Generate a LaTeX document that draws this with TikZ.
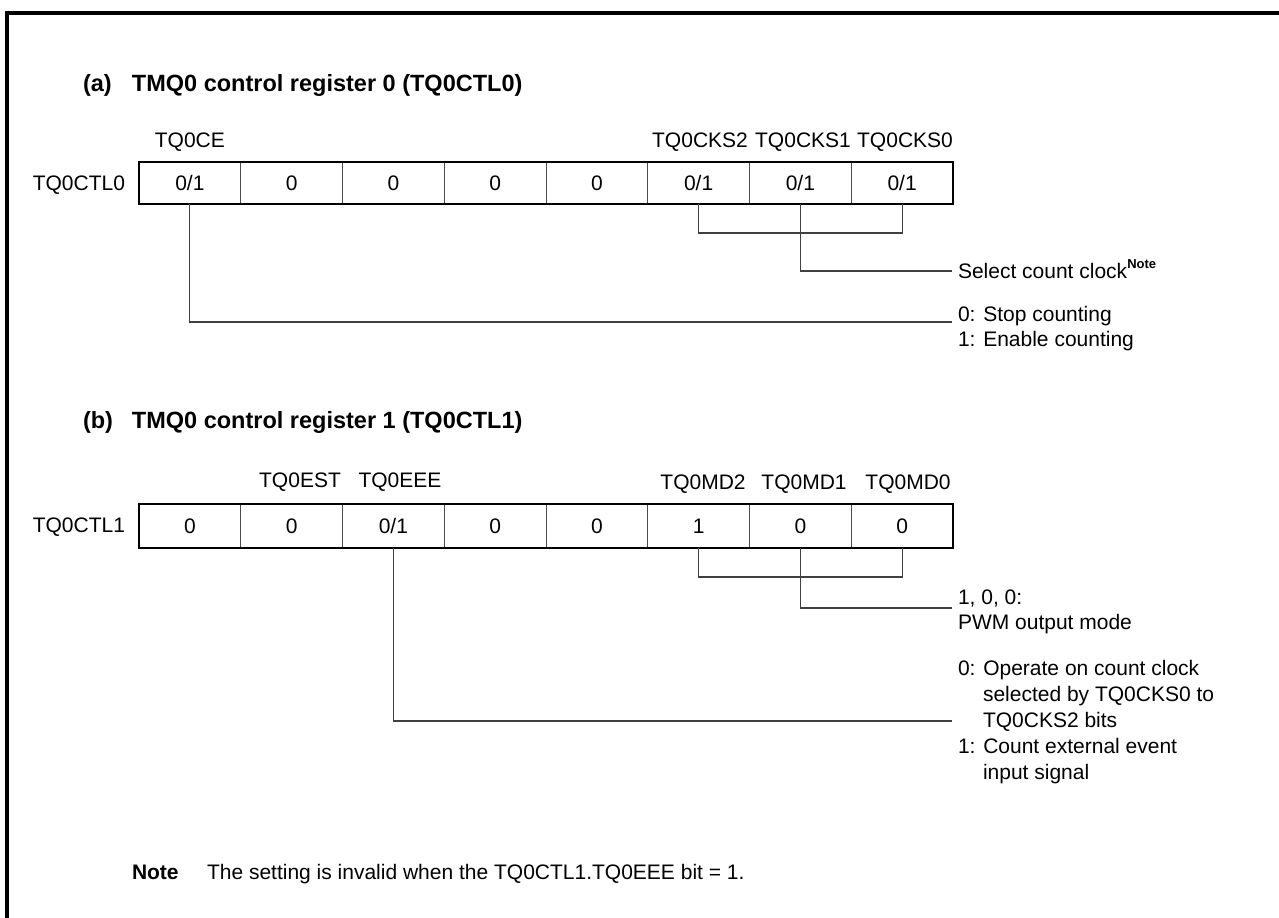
\documentclass[tikz,border=0pt]{standalone}
\usepackage{fontspec}
\setmainfont{Liberation Sans}
\begin{document}
\begin{tikzpicture}[x=0.5pt,y=-0.5pt,
  txt/.style={font=\fontsize{10.5pt}{12pt}\selectfont, inner sep=0pt, outer sep=0pt},
  lbl/.style={txt, anchor=base},
  desc/.style={txt, anchor=base west},
  ttl/.style={font=\fontsize{11.75pt}{14pt}\selectfont\bfseries, inner sep=0pt, outer sep=0pt, anchor=base west},
  cella/.style={draw=black!70, line width=0.5pt, minimum width=50.875pt, minimum height=21pt, inner sep=0pt, outer sep=0pt, font=\fontsize{10.5pt}{12pt}\selectfont},
  cellb/.style={cella, minimum height=22pt},
  regborder/.style={draw=black, line width=1pt},
  conn/.style={draw=black!75, line width=0.55pt},
  frame/.style={draw=black, line width=1.7pt}]
\useasboundingbox (0,0) rectangle (1279,917);
% outer frame (top and left edges)
\draw[frame] (7,925) -- (7,13) -- (1290,13);

% ---------- (a) ----------
\node[ttl] (ta) at (83,91.4) {\makebox[24.5pt][l]{(a)}TMQ0 control register 0 (TQ0CTL0)};
\node[txt, anchor=base east] (rna) at (125,190.5) {TQ0CTL0};
\node[cella] (a0) at (189.875,183) {0/1};
\node[cella] (a1) at (291.625,183) {0};
\node[cella] (a2) at (393.375,183) {0};
\node[cella] (a3) at (495.125,183) {0};
\node[cella] (a4) at (596.875,183) {0};
\node[cella] (a5) at (698.625,183) {0/1};
\node[cella] (a6) at (800.375,183) {0/1};
\node[cella] (a7) at (902.125,183) {0/1};
\draw[regborder] (a0.north west) rectangle (a7.south east);
\node[lbl] (la0) at (189.875,147.5) {TQ0CE};
\node[lbl] (la5) at (700,147.5) {TQ0CKS2};
\node[lbl] (la6) at (803,147.5) {TQ0CKS1};
\node[lbl] (la7) at (905,147.5) {TQ0CKS0};

\coordinate (ka) at (800.375,233);
\coordinate (selend) at (952,271);
\coordinate (stopend) at (952,322);
\draw[conn] (a5.south) |- (ka) -| (a7.south);
\draw[conn] (a6.south) |- (selend);
\draw[conn] (a0.south) |- (stopend);
\node[desc] (sel) at (958,278.5) {Select count clock\raisebox{5.25pt}{\fontsize{6.5pt}{7pt}\selectfont\bfseries Note}};
\node[desc] (stop0) at (958,321.5) {0: Stop counting};
\node[desc] (stop1) at (958,346.5) {1: Enable counting};

% ---------- (b) ----------
\node[ttl] (tb) at (83,428.4) {\makebox[24.5pt][l]{(b)}TMQ0 control register 1 (TQ0CTL1)};
\node[txt, anchor=base east] (rnb) at (125,532.5) {TQ0CTL1};
\node[cellb] (b0) at (189.875,526) {0};
\node[cellb] (b1) at (291.625,526) {0};
\node[cellb] (b2) at (393.375,526) {0/1};
\node[cellb] (b3) at (495.125,526) {0};
\node[cellb] (b4) at (596.875,526) {0};
\node[cellb] (b5) at (698.625,526) {1};
\node[cellb] (b6) at (800.375,526) {0};
\node[cellb] (b7) at (902.125,526) {0};
\draw[regborder] (b0.north west) rectangle (b7.south east);
\node[lbl] (lb1) at (300,487.5) {TQ0EST};
\node[lbl] (lb2) at (400,487.5) {TQ0EEE};
\node[lbl] (lb5) at (703,489.5) {TQ0MD2};
\node[lbl] (lb6) at (804,489.5) {TQ0MD1};
\node[lbl] (lb7) at (908,489.5) {TQ0MD0};

\coordinate (kb) at (800.375,577);
\coordinate (pwmend) at (952,608);
\coordinate (eeeend) at (952,721);
\draw[conn] (b5.south) |- (kb) -| (b7.south);
\draw[conn] (b6.south) |- (pwmend);
\draw[conn] (b2.south) |- (eeeend);
\node[desc] (pwm0) at (958,604.5) {1, 0, 0:};
\node[desc] (pwm1) at (958,629.5) {PWM output mode};
\node[desc] (eee0) at (958,675.5) {0: Operate on count clock};
\node[desc] (eee1) at (983,701.5) {selected by TQ0CKS0 to};
\node[desc] (eee2) at (983,727.5) {TQ0CKS2 bits};
\node[desc] (eee3) at (958,753.5) {1: Count external event};
\node[desc] (eee4) at (983,779.5) {input signal};

% ---------- note ----------
\node[desc, font=\fontsize{10.5pt}{12pt}\selectfont\bfseries] (nt) at (132,879.5) {Note};
\node[desc] (ntx) at (207,879.5) {The setting is invalid when the TQ0CTL1.TQ0EEE bit = 1.};
\end{tikzpicture}
\end{document}
